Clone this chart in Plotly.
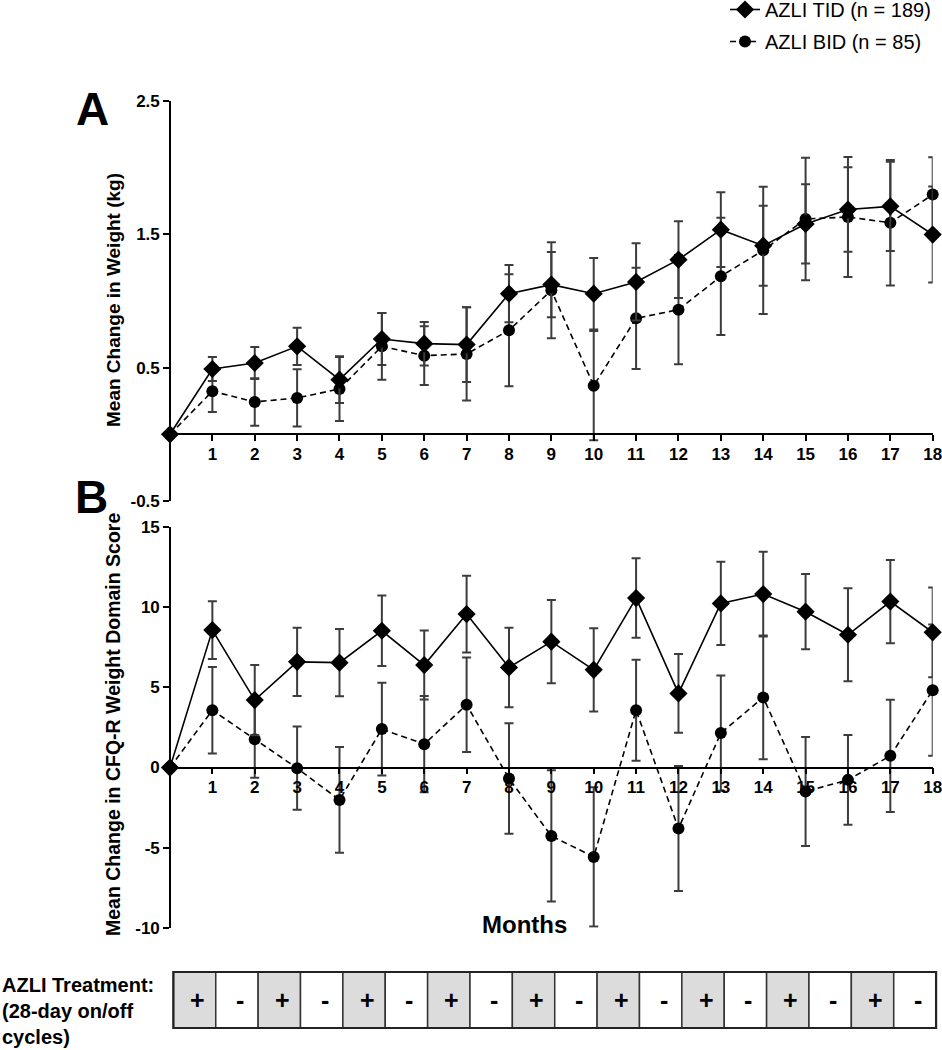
import plotly.graph_objects as go

# ---------------- data ----------------
months = list(range(0, 19))
tick_labels = [str(m) for m in range(1, 19)]

weight_tid = [0, 0.49, 0.535, 0.66, 0.41, 0.715, 0.68, 0.673, 1.055, 1.123, 1.055,
              1.143, 1.31, 1.535, 1.415, 1.578, 1.686, 1.71, 1.498]
weight_tid_err = [0, 0.09, 0.12, 0.14, 0.175, 0.195, 0.163, 0.28, 0.215, 0.245, 0.268,
                  0.29, 0.288, 0.28, 0.30, 0.297, 0.317, 0.335, 0.36]
weight_bid = [0, 0.323, 0.243, 0.273, 0.34, 0.66, 0.59, 0.603, 0.78, 1.08, 0.365,
              0.87, 0.935, 1.185, 1.38, 1.615, 1.63, 1.587, 1.798]
weight_bid_err = [0, 0.155, 0.178, 0.215, 0.24, 0.25, 0.22, 0.35, 0.42, 0.36, 0.41,
                  0.38, 0.41, 0.44, 0.477, 0.46, 0.45, 0.47, 0.28]

cfq_tid = [0, 8.58, 4.21, 6.6, 6.55, 8.54, 6.4, 9.58, 6.25, 7.86, 6.1,
           10.58, 4.63, 10.25, 10.83, 9.73, 8.29, 10.36, 8.44]
cfq_tid_err = [0, 1.8, 2.2, 2.13, 2.1, 2.2, 2.15, 2.4, 2.48, 2.6, 2.6,
               2.48, 2.46, 2.6, 2.65, 2.35, 2.9, 2.6, 2.8]
cfq_bid = [0, 3.58, 1.77, -0.04, -2.02, 2.4, 1.46, 3.92, -0.69, -4.27, -5.58,
           3.58, -3.81, 2.15, 4.38, -1.5, -0.77, 0.73, 4.83]
cfq_bid_err = [0, 2.7, 2.4, 2.6, 3.3, 2.9, 3.0, 2.95, 3.45, 4.1, 4.35,
               3.15, 3.9, 3.6, 3.87, 3.4, 2.8, 3.5, 4.1]

weight_ticks = [-0.5, 0.5, 1.5, 2.5]
cfq_ticks = [-10, -5, 0, 5, 10, 15]

treatment = ['+', '-'] * 9

tid_name = "AZLI TID (n = 189)"
bid_name = "AZLI BID (n = 85)"

# ---------------- layout helpers ----------------
W, H = 942, 1050
FONT = "Liberation Sans, Arial, sans-serif"


def py(pix):
    return 1 - pix / H


x_dom = [170 / W, 932.7 / W]
a_dom = [py(501), py(101)]
b_dom = [py(927.7), py(527.3)]
a_range = [-0.5, 2.5]
b_range = [-10, 15]
a_xpos = a_dom[0] + (a_dom[1] - a_dom[0]) * (0 - a_range[0]) / (a_range[1] - a_range[0])
b_xpos = b_dom[0] + (b_dom[1] - b_dom[0]) * (0 - b_range[0]) / (b_range[1] - b_range[0])


def month_to_paper(m):
    return x_dom[0] + (x_dom[1] - x_dom[0]) * m / 18.0


ERR_COL = "#3c3c3c"

fig = go.Figure()


def add_series(x, y, err, name, symbol, dash, xa, ya, show):
    fig.add_trace(go.Scatter(
        x=x, y=y, name=name, xaxis=xa, yaxis=ya, mode="lines+markers",
        line=dict(color="black", width=1.6, dash=dash),
        marker=dict(symbol=symbol, size=14 if symbol == "diamond" else 12, color="black"),
        error_y=dict(type="data", array=err, visible=True, color=ERR_COL,
                     thickness=2, width=4.5),
        showlegend=show, legendgroup=name, cliponaxis=False,
    ))


add_series(months, weight_bid, weight_bid_err, bid_name, "circle", "6px,4px", "x", "y", False)
add_series(months, weight_tid, weight_tid_err, tid_name, "diamond", "solid", "x", "y", True)
add_series(months, cfq_bid, cfq_bid_err, bid_name, "circle", "6px,4px", "x2", "y2", True)
add_series(months, cfq_tid, cfq_tid_err, tid_name, "diamond", "solid", "x2", "y2", False)

tickfont = dict(family=FONT, size=17, color="black", weight="bold")
common_x = dict(range=[0, 18], domain=x_dom, tickvals=list(range(1, 19)), ticktext=tick_labels,
                showline=True, linecolor="black", linewidth=1.6, ticks="outside",
                ticklen=6, tickwidth=1.6, tickcolor="black", showgrid=False, zeroline=False,
                tickfont=tickfont, anchor="free", ticklabelstandoff=-2,
                ticklabeloverflow="allow")
common_y = dict(showline=True, linecolor="black", linewidth=1.6, ticks="outside",
                ticklen=6, tickwidth=1.6, tickcolor="black", showgrid=False, zeroline=False,
                tickfont=tickfont, anchor="free", position=x_dom[0],
                ticklabeloverflow="allow")

fig.update_layout(
    width=W, height=H, margin=dict(l=0, r=0, t=0, b=0, pad=0, autoexpand=False),
    paper_bgcolor="white", plot_bgcolor="white",
    xaxis=dict(common_x, position=a_xpos),
    yaxis=dict(common_y, domain=a_dom, range=a_range, tickvals=weight_ticks,
               ticktext=[str(v) for v in weight_ticks]),
    xaxis2=dict(common_x, position=b_xpos),
    yaxis2=dict(common_y, domain=b_dom, range=b_range, tickvals=cfq_ticks,
                ticktext=[str(v) for v in cfq_ticks]),
    legend=dict(x=725 / W, y=1 + 10 / H, xanchor="left", yanchor="top",
                font=dict(family=FONT, size=20, color="black"),
                traceorder="reversed+grouped", tracegroupgap=3, bgcolor="rgba(0,0,0,0)"),
    showlegend=True,
)

ann = []


def add_text(text, xp, yp, size, bold=True, angle=0, xanchor="center", align="center"):
    ann.append(dict(text=text, x=xp, y=yp, xref="paper", yref="paper", showarrow=False,
                    xanchor=xanchor, yanchor="middle", textangle=angle, align=align,
                    font=dict(family=FONT, size=size, color="black",
                              weight="bold" if bold else "normal")))


add_text("A", 92 / W, py(109), 46)
add_text("B", 91 / W, py(497), 46)
add_text("Mean Change in Weight (kg)", 113 / W, py(300), 19, angle=-90)
add_text("Mean Change in CFQ-R Weight Domain Score", 113 / W, py(725), 19.5, angle=-90)
add_text("Months", 524 / W, py(924), 24)
add_text("AZLI Treatment:<br>(28-day on/off<br>cycles)", 0, py(1011), 20,
         xanchor="left", align="left")

shapes = []
off = 0.08
t_top, t_bot = py(972), py(1028)
for i, sym in enumerate(treatment):
    x0, x1 = month_to_paper(i + off), month_to_paper(i + 1 + off)
    shapes.append(dict(type="rect", xref="paper", yref="paper", x0=x0, x1=x1,
                       y0=t_bot, y1=t_top,
                       fillcolor="#dcdcdc" if sym == "+" else "white",
                       line=dict(color="#333333", width=1.5), layer="below"))
    add_text(sym, (x0 + x1) / 2 + 3 / W, py(1000), 25)
shapes.append(dict(type="rect", xref="paper", yref="paper", x0=month_to_paper(off),
                   x1=month_to_paper(18 + off), y0=t_bot, y1=t_top,
                   line=dict(color="#222222", width=2.2)))

fig.update_layout(annotations=ann, shapes=shapes)
fig.write_html(
    "out.html",
    config={"displayModeBar": False},
    post_script="document.body.style.margin='0';document.body.style.overflow='hidden';",
)
